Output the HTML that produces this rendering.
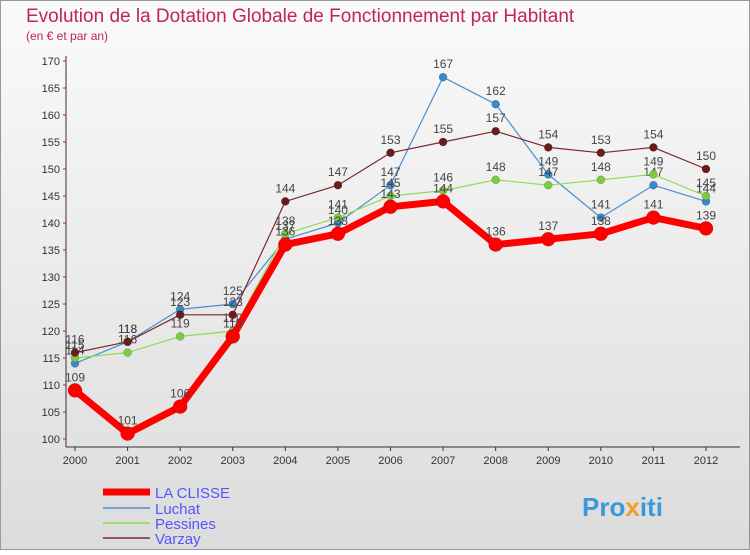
<!DOCTYPE html>
<html><head><meta charset="utf-8"><style>
body{margin:0;width:750px;height:550px;overflow:hidden;font-family:"Liberation Sans",sans-serif}
</style></head><body>
<svg width="750" height="550" xmlns="http://www.w3.org/2000/svg">
<defs><linearGradient id="bg" x1="0" y1="0" x2="0" y2="1"><stop offset="0" stop-color="#fafafa"/><stop offset="1" stop-color="#dcdcdc"/></linearGradient></defs>
<rect x="0.5" y="0.5" width="749" height="549" fill="url(#bg)" stroke="#999"/>
<text x="26" y="22" font-size="19" fill="#c0245c">Evolution de la Dotation Globale de Fonctionnement par Habitant</text>
<text x="26" y="40" font-size="12" fill="#c0245c">(en € et par an)</text>
<g id="axes"></g><g id="series"></g>
<g>
<line x1="103" y1="492" x2="150" y2="492" stroke="#f00" stroke-width="7"/>
<text x="155" y="498" font-size="15" fill="#55f">LA CLISSE</text>
<line x1="103" y1="508" x2="150" y2="508" stroke="#4a90d0" stroke-width="1.5"/>
<text x="155" y="514" font-size="15" fill="#55f">Luchat</text>
<line x1="103" y1="523" x2="150" y2="523" stroke="#8ddc50" stroke-width="1.5"/>
<text x="155" y="529" font-size="15" fill="#55f">Pessines</text>
<line x1="103" y1="538" x2="150" y2="538" stroke="#7a2a2a" stroke-width="1.5"/>
<text x="155" y="544" font-size="15" fill="#55f">Varzay</text>
</g>
<text x="582" y="516" font-size="26" font-weight="bold" fill="#3a9ad9">Pro<tspan fill="#f0a020">x</tspan><tspan fill="#3a9ad9">iti</tspan></text>
</svg>
<script>
const years=["2000","2001","2002","2003","2004","2005","2006","2007","2008","2009","2010","2011","2012"];
const yTicks=[100,105,110,115,120,125,130,135,140,145,150,155,160,165,170];
const laClisse=[109,101,106,119,136,138,143,144,136,137,138,141,139];
const luchat=[114,118,124,125,137,140,147,167,162,149,141,147,144];
const pessines=[115,116,119,120,138,141,145,146,148,147,148,149,145];
const varzay=[116,118,123,123,144,147,153,155,157,154,153,154,150];
const NS="http://www.w3.org/2000/svg";
const x0=75,x1=706,yb=439,yt=61,vmin=100,vmax=170;
const X=i=>x0+i*(x1-x0)/(years.length-1);
const Y=v=>yb-(v-vmin)*(yb-yt)/(vmax-vmin);
function mk(t,a,p){const e=document.createElementNS(NS,t);for(const k in a)e.setAttribute(k,a[k]);p.appendChild(e);return e;}
const ax=document.getElementById('axes');
const yl=mk('line',{x1:66,y1:yt-5,x2:66,y2:yb+8,stroke:'#333'},ax);


const xl=mk('line',{x1:66,y1:yb+8,x2:740,y2:yb+8,stroke:'#333'},ax);


yTicks.forEach(v=>{
 const t=mk('text',{x:60,y:Y(v)+4,'font-size':11,fill:'#333','text-anchor':'end'},ax);t.textContent=v;
 
 
 mk('line',{x1:63,y1:Y(v),x2:66,y2:Y(v),stroke:'#f00'},ax);
});
years.forEach((y,i)=>{
 const t=mk('text',{x:X(i),y:yb+25,'font-size':11,fill:'#333','text-anchor':'middle'},ax);t.textContent=y;
 
 
 mk('line',{x1:X(i),y1:yb+8,x2:X(i),y2:yb+12,stroke:'#333'},ax);
});
const sg=document.getElementById('series');
function draw(name,vals,col,w,r,dot){
 const g=mk('g',{},sg);
 
 
 mk('polyline',{points:vals.map((v,i)=>X(i)+','+Y(v)).join(' '),fill:'none',stroke:col,'stroke-width':w,'stroke-linejoin':'round'},g);
 vals.forEach((v,i)=>{
  const c=mk('circle',{cx:X(i),cy:Y(v),r:r,fill:dot,stroke:'rgba(0,0,0,0.3)','stroke-width':0.5},g);
  
  
  const t=mk('text',{x:X(i),y:Y(v)-9,'font-size':12,fill:'#444','text-anchor':'middle'},g);t.textContent=v;
  
  
 });
}
draw('luchat',luchat,'#4a90d0',1.2,4,'#3a88c8');
draw('pessines',pessines,'#8ddc50',1.2,4,'#7acc40');
draw('varzay',varzay,'#7a2a2a',1.2,4,'#6a1c1c');
draw('la-clisse',laClisse,'#f00',7,7,'#f00');
</script>
</body></html>
